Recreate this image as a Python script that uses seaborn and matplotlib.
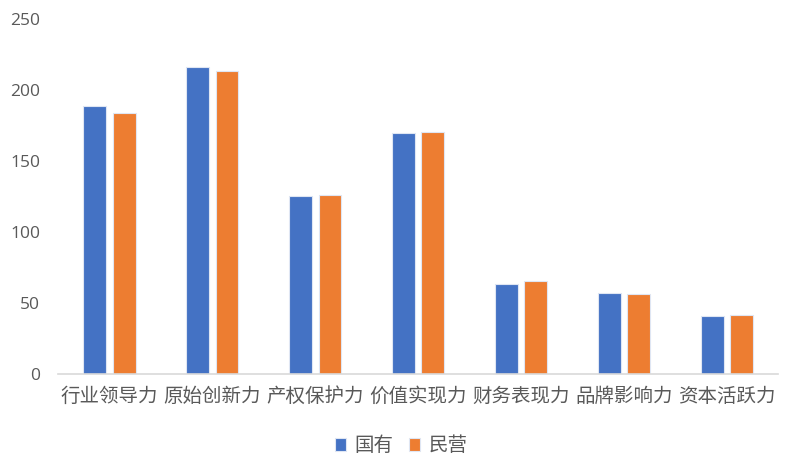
import matplotlib
matplotlib.use("Agg")
import matplotlib.pyplot as plt
import seaborn as sns
import pandas as pd

# 数据：各维度得分
categories = ["行业领导力", "原始创新力", "产权保护力", "价值实现力", "财务表现力", "品牌影响力", "资本活跃力"]
state_owned = [188.3, 216.3, 124.8, 169.8, 63.3, 56.4, 40.7]
private = [183.3, 213.2, 126.0, 170.0, 64.9, 56.2, 40.9]
series_names = ["国有", "民营"]
y_ticks = [0, 50, 100, 150, 200, 250]

sns.set_style("white")
plt.rcParams['font.family'] = ['Noto Sans CJK SC', 'DejaVu Sans']

df = pd.DataFrame({
    "类别": categories * 2,
    "值": state_owned + private,
    "类型": [series_names[0]] * len(categories) + [series_names[1]] * len(categories),
})

fig = plt.figure(figsize=(7.9, 4.71), dpi=100)
ax = fig.add_axes([0.0734, 0.207, 0.912, 0.753])

sns.barplot(data=df, x="类别", y="值", hue="类型", order=categories,
            hue_order=series_names, palette=["#4472C4", "#ED7D31"],
            width=0.57, gap=0.22, edgecolor="#dfe6f3", linewidth=0.8,
            saturation=1, ax=ax, legend=True)

ax.set_ylim(0, 250)
ax.set_xlim(-0.5, len(categories) - 0.5)
ax.set_yticks(y_ticks)
ax.set_xlabel("")
ax.set_ylabel("")
ax.tick_params(axis="y", length=0, pad=13, labelsize=12.5, labelcolor="#595959")
ax.tick_params(axis="x", length=0, pad=9, labelsize=14, labelcolor="#595959")
for lab in ax.get_yticklabels():
    lab.set_family(['Open Sans', 'DejaVu Sans'])

for side in ["top", "right", "left"]:
    ax.spines[side].set_visible(False)
ax.spines["bottom"].set_color("#D9D9D9")
ax.spines["bottom"].set_linewidth(1.2)

ax.legend(loc="upper center", bbox_to_anchor=(0.476, -0.125), ncol=2, frameon=False,
          fontsize=14, labelcolor="#595959", handlelength=0.6, handleheight=0.6,
          handletextpad=0.4, columnspacing=0.8)

fig.savefig("out.png", dpi=100)
